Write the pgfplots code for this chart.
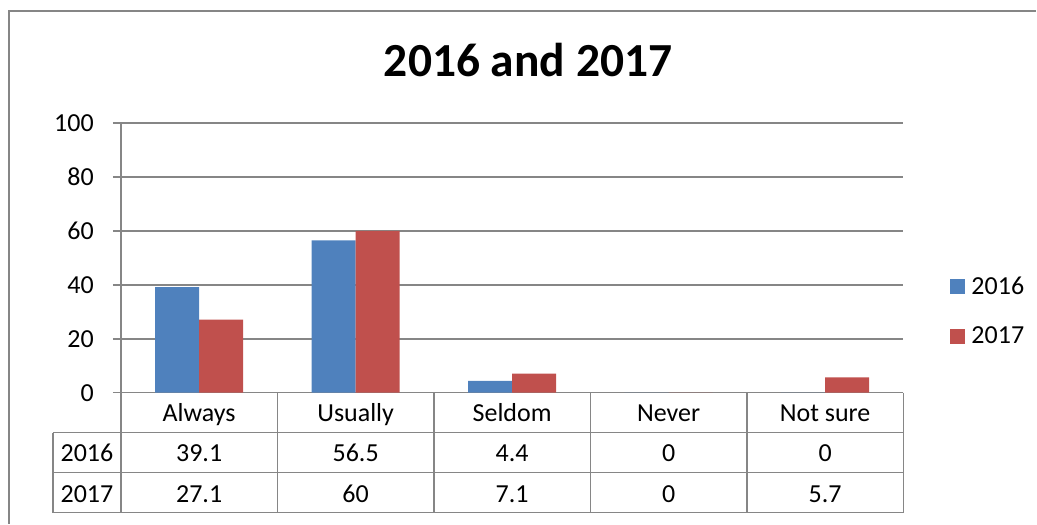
\documentclass[border=0pt]{standalone}
\usepackage{fontspec}
\setmainfont{Carlito}
\usepackage{pgfplots}
\pgfplotsset{compat=1.18}
\usepackage{pgfplotstable}
\definecolor{b16}{HTML}{4F81BD}
\definecolor{r17}{HTML}{C0504D}
\definecolor{gl}{HTML}{868686}
\pgfplotstableread{
x y2016 y2017
0 39.1 27.1
1 56.5 60
2 4.4 7.1
3 0 0
4 0 5.7
}\datatable
\newcommand\lbl{\fontsize{26}{30}\selectfont}
\begin{document}
\begin{tikzpicture}[x=1pt,y=1pt]
\path (0,0) rectangle (1037,524);
\draw[gl, line width=1.5pt] (9,0) -- (9,513) -- (1037,513);
\node[font=\fontsize{47.5}{56}\selectfont\bfseries, anchor=base, inner sep=0pt] at (528.5,447.3) {2016 and 2017};
\begin{axis}[
  at={(121pt,131pt)}, anchor=south west,
  scale only axis, width=783pt, height=270pt,
  ybar=0pt, bar width=44pt,
  xmin=-0.5, xmax=4.5, ymin=0, ymax=100,
  enlargelimits=false, clip=false,
  axis x line=bottom, axis y line=left,
  axis line style={gl, line width=1.5pt, -},
  ytick={0,20,...,100},
  xtick={0,...,4}, xticklabels={Always,Usually,Seldom,Never,Not sure},
  x tick style={draw=none},
  y tick style={gl, line width=1.5pt},
  tick align=outside, major tick length=8pt,
  ymajorgrids, grid style={gl, line width=1.5pt},
  /pgf/number format/assume math mode=true,
  yticklabel style={font=\lbl, inner sep=0pt, anchor=east, xshift=-19pt},
  xticklabel style={font=\lbl, inner sep=0pt, anchor=base, yshift=-21pt},
  legend style={draw=none, font=\lbl, at={(axis description cs:1.0549,0.302)}, anchor=west,
    nodes={inner sep=0pt}, column sep=7pt, row sep=31pt},
  legend cell align=left,
  legend image code/.code={\fill[#1] (0pt,-7.5pt) rectangle (15pt,7.5pt);},
]
\addplot[fill=b16, draw=none] table[x=x, y=y2016] {\datatable};
\addplot[fill=r17, draw=none] table[x=x, y=y2017] {\datatable};
\legend{2016,2017}
% data table grid
\draw[gl, line width=1.5pt] (axis cs:-0.934,-14.81) -- (axis cs:4.5,-14.81);
\draw[gl, line width=1.5pt] (axis cs:-0.934,-29.63) -- (axis cs:4.5,-29.63);
\draw[gl, line width=1.5pt] (axis cs:-0.934,-44.44) -- (axis cs:4.5,-44.44);
\draw[gl, line width=1.5pt] (axis cs:-0.934,-14.81) -- (axis cs:-0.934,-44.44);
\pgfplotsinvokeforeach{-0.5,0.5,1.5,2.5,3.5,4.5}{
  \draw[gl, line width=1.5pt] (axis cs:#1,0) -- (axis cs:#1,-44.44);
}
\node[font=\lbl, anchor=base, inner sep=0pt] at (axis cs:-0.717,-25.56) {2016};
\node[font=\lbl, anchor=base, inner sep=0pt] at (axis cs:-0.717,-40.74) {2017};
\node[font=\lbl, anchor=base, inner sep=0pt] at (axis cs:0,-25.56) {39.1};
\node[font=\lbl, anchor=base, inner sep=0pt] at (axis cs:1,-25.56) {56.5};
\node[font=\lbl, anchor=base, inner sep=0pt] at (axis cs:2,-25.56) {4.4};
\node[font=\lbl, anchor=base, inner sep=0pt] at (axis cs:3,-25.56) {0};
\node[font=\lbl, anchor=base, inner sep=0pt] at (axis cs:4,-25.56) {0};
\node[font=\lbl, anchor=base, inner sep=0pt] at (axis cs:0,-40.74) {27.1};
\node[font=\lbl, anchor=base, inner sep=0pt] at (axis cs:1,-40.74) {60};
\node[font=\lbl, anchor=base, inner sep=0pt] at (axis cs:2,-40.74) {7.1};
\node[font=\lbl, anchor=base, inner sep=0pt] at (axis cs:3,-40.74) {0};
\node[font=\lbl, anchor=base, inner sep=0pt] at (axis cs:4,-40.74) {5.7};
\end{axis}
\end{tikzpicture}
\end{document}
